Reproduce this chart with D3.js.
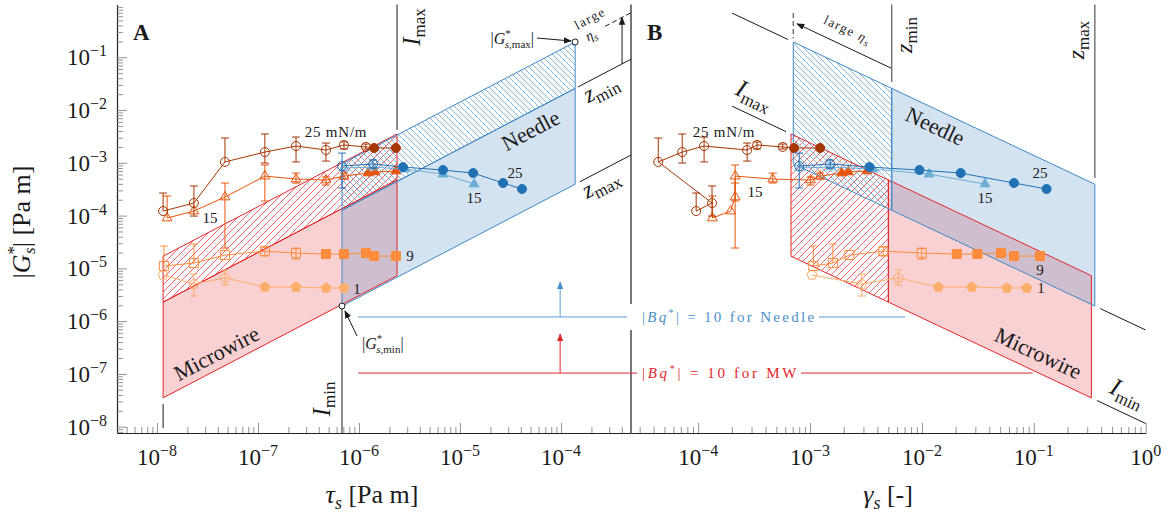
<!DOCTYPE html>
<html>
<head>
<meta charset="utf-8">
<script src="https://cdn.jsdelivr.net/npm/d3@7/dist/d3.min.js"></script>
<style>
  body { margin: 0; background: #fff; }
  svg { display: block; }
  text { font-family: "Liberation Serif", "Times New Roman", serif; }
  .axis .domain { stroke: #222; stroke-width: 1.2; }
  .axis .tick line { stroke: #777; stroke-width: 0.8; }
</style>
</head>
<body>
<svg width="1175" height="515"></svg>
<script>
const svg = d3.select("svg");

// ---- axes
const tauDomain = [4.02e-9, 4.93e-4];
const gamDomain = [2.51e-5, 1];
const gDomain = [7.6e-9, 1];
const tauMajor = [1e-8, 1e-7, 1e-6, 1e-5, 1e-4];
const tauTickText = ["−8", "−7", "−6", "−5", "−4"];
const gamMajor = [1e-4, 1e-3, 1e-2, 1e-1, 1];
const gamTickText = ["−4", "−3", "−2", "−1", "0"];
const gMajor = [1e-8, 1e-7, 1e-6, 1e-5, 1e-4, 1e-3, 1e-2, 1e-1];
const gTickText = ["−8", "−7", "−6", "−5", "−4", "−3", "−2", "−1"];

// ---- operating windows (edges)
const mwTau = [1.15e-8, 2.38e-6];          // I_min, I_max microwire
const mwGam = [6.76e-4, 5.01e-3, 0.327];   // large eta_s / z_min / z_max
const ndTau = [6.79e-7, 1.38e-4];          // needle
const ndGam = [7.08e-4, 5.37e-3, 0.351];

// |Bq*| = 10 levels: needle, MW
const bqG = [1.2e-6, 1.04e-7];
const bqGamEnd = [7.06e-3, 0.098];
const bqArrowTop = [5.5e-6, 5.7e-7];
const bqTauStart = 9.8e-7, bqArrowTau = 9.8e-5;

// annotation line extents
const extLeftTau = [1.47e-4, 1.54e-4, 2.73e-4];  // z_min, z_max, dashed
const etaArrowTauL = 4.02e-4;
const imaxLineG = [1, 4.2e-3];
const mwTickG = [2.7e-8, 9.4e-9];
const imaxExtGam = [2.01e-4, 6.35e-4, 6.1e-4];
const etaDashG = [0.69, 0.23];
const etaArrowR = [3.3e-4, 5.37e-3, 7.65e-4];
const zVertEndG = [3.4e-2, 5.15e-4];
const iminExtGam = [0.392, 0.367];

// ---- data series
// 25 mN/m microwire
const mw25Tau = [1.15e-8, 2.32e-8, 4.71e-8, 1.17e-7, 2.38e-7, 4.71e-7, 7.1e-7, 1.17e-6, 1.41e-6, 2.32e-6];
const mw25Gam = [9.6e-5, 1.33e-4, 4.4e-5, 7.2e-5, 1.13e-4, 2.74e-4, 3.36e-4, 5.7e-4, 7.2e-4, 1.23e-3];
const mw25G   = [1.22e-4, 1.73e-4, 1.04e-3, 1.60e-3, 2.08e-3, 1.75e-3, 2.18e-3, 2.0e-3, 1.91e-3, 1.91e-3];
const mw25Hi  = [2.68e-4, 3.64e-4, 2.95e-3, 3.52e-3, 3.08e-3, 2.37e-3, 2.48e-3, 2.27e-3, null, null];
const mw25Lo  = [null, 9.8e-5, null, 9.9e-4, 1.04e-3, 1.08e-3, 1.83e-3, 1.83e-3, null, null];
// 15 mN/m microwire
const mw15Tau = [1.26e-8, 2.32e-8, 4.71e-8, 1.17e-7, 2.38e-7, 4.71e-7, 7.1e-7, 1.23e-6, 1.44e-6, 2.32e-6];
const mw15Gam = [1.34e-4, 1.95e-4, 2.14e-4, 2.14e-4, 4.64e-4, 1.01e-3, 1.23e-3, 1.92e-3, 2.2e-3, 3.23e-3];
const mw15G   = [9.0e-5, 1.22e-4, 2.25e-4, 5.6e-4, 4.93e-4, 4.72e-4, 5.6e-4, 6.4e-4, 6.7e-4, 7.0e-4];
const mw15Hi  = [2.35e-4, null, 4.14e-4, 9.1e-4, 6.4e-4, 5.4e-4, 6.4e-4, null, null, null];
const mw15Lo  = [null, null, 2.43e-5, 1.89e-4, 4.14e-4, 3.8e-4, 4.93e-4, null, null, null];
// 9 mN/m microwire
const mw9Tau = [1.17e-8, 2.32e-8, 4.71e-8, 1.17e-7, 2.38e-7, 4.71e-7, 7.1e-7, 1.17e-6, 1.41e-6, 2.32e-6];
const mw9Gam = [1.07e-3, 1.6e-3, 2.25e-3, 4.52e-3, 9.95e-3, 2.05e-2, 3.13e-2, 5.09e-2, 6.65e-2, 0.1135];
const mw9G   = [1.11e-5, 1.26e-5, 1.79e-5, 2.13e-5, 1.95e-5, 1.87e-5, 1.87e-5, 1.95e-5, 1.71e-5, 1.71e-5];
const mw9Hi  = [2.65e-5, 2.89e-5, null, 2.54e-5, 2.43e-5, null, null, null, null, null];
const mw9Lo  = [null, null, null, 1.71e-5, 1.5e-5, null, null, null, null, null];
// 1 mN/m microwire
const mw1Tau = [1.15e-8, 2.32e-8, 4.71e-8, 1.17e-7, 2.38e-7, 4.71e-7, 7.1e-7];
const mw1Gam = [1.04e-3, 2.9e-3, 6.15e-3, 1.4e-2, 2.79e-2, 5.73e-2, 8.64e-2];
const mw1G   = [7.5e-6, 5.05e-6, 6.6e-6, 4.43e-6, 4.43e-6, 4.25e-6, 4.25e-6];
const mw1Hi  = [null, 7.8e-6, 9.3e-6, null, null, null, null];
const mw1Lo  = [null, 2.99e-6, 4.83e-6, null, null, null, null];
// 25 mN/m needle
const nd25Tau = [6.8e-7, 1.38e-6, 2.73e-6, 6.79e-6, 1.35e-5, 2.67e-5, 4.11e-5];
const nd25Gam = [8.0e-4, 1.51e-3, 3.39e-3, 9.5e-3, 2.22e-2, 6.65e-2, 0.130];
const nd25G   = [8.7e-4, 9.5e-4, 8.3e-4, 7.3e-4, 6.4e-4, 4.14e-4, 3.19e-4];
const nd25Hi  = [1.53e-3, 1.13e-3, null, null, null, null, null];
const nd25Lo  = [3.33e-4, 7.97e-4, null, null, null, null, null];
// 15 mN/m needle
const nd15Tau = [7.1e-7, 1.35e-6, 2.85e-6, 6.79e-6, 1.38e-5];
const nd15Gam = [8.1e-4, 1.54e-3, 3.66e-3, 1.16e-2, 3.66e-2];
const nd15G   = [8.0e-4, 8.3e-4, 7.6e-4, 6.1e-4, 3.96e-4];

const series = [
  {tau: mw1Tau, gam: mw1Gam, G: mw1G, hi: mw1Hi, lo: mw1Lo, nOpen: 3, color: "#fdae6b", shape: "pentagon"},
  {tau: mw9Tau, gam: mw9Gam, G: mw9G, hi: mw9Hi, lo: mw9Lo, nOpen: 5, color: "#fd8d3c", shape: "square"},
  {tau: mw15Tau, gam: mw15Gam, G: mw15G, hi: mw15Hi, lo: mw15Lo, nOpen: 7, color: "#e6550d", shape: "triangle"},
  {tau: mw25Tau, gam: mw25Gam, G: mw25G, hi: mw25Hi, lo: mw25Lo, nOpen: 8, color: "#a63603", shape: "circle"},
  {tau: nd15Tau, gam: nd15Gam, G: nd15G, hi: null, lo: null, nOpen: 2, color: "#6baed6", shape: "triangle"},
  {tau: nd25Tau, gam: nd25Gam, G: nd25G, hi: nd25Hi, lo: nd25Lo, nOpen: 2, color: "#2171b5", shape: "circle"}
];

const red = "#e3262a", blue = "#3f88c5", ink = "#1a1a1a";

const xL = d3.scaleLog().domain(tauDomain).range([117, 631]);
const xR = d3.scaleLog().domain(gamDomain).range([631, 1145.7]);
const y = d3.scaleLog().domain(gDomain).range([433, 4.5]);
const yB = y.range()[0], yT = y.range()[1];

// ---------------------------------------------------------------
// helpers

function rich(sel, x, yy, parts, o = {}) {
  const t = sel.append("text")
    .attr("x", x).attr("y", yy)
    .attr("font-size", o.size || 14)
    .attr("text-anchor", o.anchor || "start")
    .style("fill", o.color || ink);
  if (o.rot) t.attr("transform", `rotate(${o.rot},${x},${yy})`);
  if (o.weight) t.attr("font-weight", o.weight);
  if (o.ls) t.attr("letter-spacing", o.ls);
  for (const [s, it, sz, dy, dx] of parts) {
    const ts = t.append("tspan").text(s);
    if (it) ts.attr("font-style", "italic");
    if (sz) ts.attr("font-size", sz);
    if (dy) ts.attr("dy", dy);
    if (dx) ts.attr("dx", dx);
  }
  return t;
}

function seg(g, pts, color, opts = {}) {
  const p = g.append("path")
    .attr("d", d3.line()(pts))
    .attr("fill", "none")
    .attr("stroke", color)
    .attr("stroke-width", opts.w || 1);
  if (opts.dash) p.attr("stroke-dasharray", opts.dash);
  if (opts.arrow) p.attr("marker-end", `url(#${opts.arrow})`);
  return p;
}

function shapePath(shape) {
  if (shape === "circle") return d3.symbol(d3.symbolCircle, 64)();
  if (shape === "square") return "M-4.5,-4.5h9v9h-9Z";
  if (shape === "triangle") return "M0,-5.6L4.9,2.8L-4.9,2.8Z";
  const pts = d3.range(5).map(i => {
    const a = -Math.PI / 2 + i * 2 * Math.PI / 5;
    return [5.2 * Math.cos(a), 5.2 * Math.sin(a)];
  });
  return "M" + pts.join("L") + "Z";
}

function isMajor(v) {
  const l = Math.log10(v);
  return Math.abs(l - Math.round(l)) < 1e-9;
}

// ---------------------------------------------------------------
// defs: hatches + arrow heads

const defs = svg.append("defs");
function hatch(id, color, dir, s, w) {
  const p = defs.append("pattern").attr("id", id)
    .attr("patternUnits", "userSpaceOnUse")
    .attr("width", s).attr("height", s);
  const d = dir > 0
    ? `M-1,1L1,-1M0,${s}L${s},0M${s - 1},${s + 1}L${s + 1},${s - 1}`
    : `M-1,${s - 1}L1,${s + 1}M0,0L${s},${s}M${s - 1},-1L${s + 1},1`;
  p.append("path").attr("d", d)
    .style("fill", "none").style("stroke", color).style("stroke-width", w);
}
hatch("hatchMw", "#f5585b", 1, 7, 0.9);
hatch("hatchNd", "#5d9ed4", -1, 6, 0.75);

[["arrInk", ink], ["arrRed", red], ["arrBlue", "#4a90c8"]].forEach(([id, c]) => {
  defs.append("marker").attr("id", id)
    .attr("viewBox", "0 0 10 8").attr("refX", 9).attr("refY", 4)
    .attr("markerUnits", "userSpaceOnUse")
    .attr("markerWidth", 8).attr("markerHeight", 7)
    .attr("orient", "auto")
    .append("path").attr("d", "M0,0L10,4L0,8Z").attr("fill", c);
});

// ---------------------------------------------------------------
// operating windows in both panels

function quad(taus, g1, g2) {
  return [[taus[0], g1], [taus[1], g1], [taus[1], g2], [taus[0], g2]]
    .map(([tau, gam]) => ({tau, gam, G: tau / gam}));
}
const mwSolid = quad(mwTau, mwGam[1], mwGam[2]);
const mwHatch = quad(mwTau, mwGam[0], mwGam[1]);
const ndSolid = quad(ndTau, ndGam[1], ndGam[2]);
const ndHatch = quad(ndTau, ndGam[0], ndGam[1]);

const panels = [{xs: xL, key: "tau"}, {xs: xR, key: "gam"}];

panels.forEach(({xs, key}) => {
  const line = d3.line().x(d => xs(d[key])).y(d => y(d.G));
  const g = svg.append("g");
  g.append("path").attr("d", line(mwSolid) + "Z").attr("fill", red).attr("fill-opacity", 0.21);
  g.append("path").attr("d", line(ndSolid) + "Z").attr("fill", "#3a7fc0").attr("fill-opacity", 0.22);
  g.append("path").attr("d", line(mwHatch) + "Z").style("fill", "url(#hatchMw)");
  g.append("path").attr("d", line(ndHatch) + "Z").style("fill", "url(#hatchNd)");
  [mwHatch, mwSolid].forEach(q => g.append("path").attr("d", line(q) + "Z")
    .attr("fill", "none").attr("stroke", red).attr("stroke-width", 1));
  [ndHatch, ndSolid].forEach(q => g.append("path").attr("d", line(q) + "Z")
    .attr("fill", "none").attr("stroke", blue).attr("stroke-width", 1));
});

// ---------------------------------------------------------------
// annotation lines

const ann = svg.append("g");
const xMidLine = xL.range()[1];
// left panel
seg(ann, [[xL(mwTau[1]), y(imaxLineG[0])], [xL(mwTau[1]), y(imaxLineG[1])]], ink);
seg(ann, [[xL(ndTau[0]), y(ndTau[0] / ndGam[2])], [xL(ndTau[0]), yB]], ink);
seg(ann, [[xL(mwTau[0]), y(mwTickG[0])], [xL(mwTau[0]), y(mwTickG[1])]], ink);
seg(ann, [extLeftTau[0], tauDomain[1]].map(t => [xL(t), y(t / ndGam[1])]), ink);
seg(ann, [extLeftTau[1], tauDomain[1]].map(t => [xL(t), y(t / ndGam[2])]), ink);
seg(ann, [extLeftTau[2], tauDomain[1]].map(t => [xL(t), y(t / ndGam[0])]), ink, {dash: "5,3"});
seg(ann, [[xL(etaArrowTauL), y(etaArrowTauL / ndGam[1])],
          [xL(etaArrowTauL), y(etaArrowTauL / ndGam[0])]], ink, {arrow: "arrInk"});
seg(ann, [[xMidLine, yT], [xMidLine, yB]], ink, {w: 1.2});

// right panel
seg(ann, [imaxExtGam[0], imaxExtGam[1]].map(gm => [xR(gm), y(ndTau[1] / gm)]), ink);
seg(ann, [imaxExtGam[0], imaxExtGam[2]].map(gm => [xR(gm), y(mwTau[1] / gm)]), ink);
seg(ann, [[xR(ndGam[0]), y(etaDashG[0])], [xR(ndGam[0]), y(etaDashG[1])]], "#555", {dash: "5,3", w: 1.2});
seg(ann, [etaArrowR[1], etaArrowR[2]].map(gm => [xR(gm), y(etaArrowR[0] / gm)]), ink, {arrow: "arrInk"});
seg(ann, [[xR(ndGam[1]), yT], [xR(ndGam[1]), y(zVertEndG[0])]], "#666", {w: 1.3});
seg(ann, [[xR(ndGam[2]), yT], [xR(ndGam[2]), y(zVertEndG[1])]], "#777", {w: 1.5});
seg(ann, [iminExtGam[0], 1].map(gm => [xR(gm), y(ndTau[0] / gm)]), ink);
seg(ann, [iminExtGam[1], 1].map(gm => [xR(gm), y(mwTau[0] / gm)]), ink);

// |G*| extremes
[[ndTau[0], ndGam[2]], [ndTau[1], ndGam[0]]].forEach(([t, gm]) => {
  ann.append("circle").attr("cx", xL(t)).attr("cy", y(t / gm)).attr("r", 3)
    .attr("fill", "#fff").attr("stroke", ink).attr("stroke-width", 1);
});
seg(ann, [[537, 38], [571, 41]], ink, {arrow: "arrInk"});
seg(ann, [[357, 336], [345, 311]], ink, {arrow: "arrInk"});

// ---------------------------------------------------------------
// |Bq*| = 10 lines

const bq = svg.append("g");
const bqCol = ["#5b9bd0", red];
const bqArr = ["arrBlue", "arrRed"];
bqG.forEach((gv, i) => {
  seg(bq, [[xL(bqTauStart), y(gv)], [xR(bqGamEnd[i]), y(gv)]], bqCol[i]);
  seg(bq, [[xL(bqArrowTau), y(gv)], [xL(bqArrowTau), y(bqArrowTop[i])]], bqCol[i], {arrow: bqArr[i]});
});
bq.append("rect").attr("x", 627).attr("y", y(bqG[0]) - 13).attr("width", 192).attr("height", 26).attr("fill", "#fff");
bq.append("rect").attr("x", 637).attr("y", y(bqG[1]) - 12).attr("width", 164).attr("height", 24).attr("fill", "#fff");
rich(bq, 642, y(bqG[0]) + 5, [["|"], ["Bq", true], ["*", false, 10, -6], ["| = 10 for Needle", false, null, 6]],
  {size: 15, color: "#4a8fc8", ls: 2.3});
rich(bq, 642, y(bqG[1]) + 5, [["|"], ["Bq", true], ["*", false, 10, -6], ["| = 10 for MW", false, null, 6]],
  {size: 15, color: red, ls: 2.7});

// ---------------------------------------------------------------
// data

panels.forEach(({xs, key}) => {
  const g = svg.append("g");
  series.forEach(s => {
    const pts = s.tau.map((t, i) => ({
      tau: t, gam: s.gam[i], G: s.G[i],
      hi: s.hi ? s.hi[i] : null, lo: s.lo ? s.lo[i] : null,
      open: i < s.nOpen
    }));
    const px = d => xs(d[key]);
    pts.filter(d => d.hi || d.lo).forEach(d => {
      const x0 = px(d);
      const y1 = y(d.hi || d.G), y2 = y(d.lo || d.G);
      seg(g, [[x0, y1], [x0, y2]], s.color);
      if (d.hi) seg(g, [[x0 - 4, y1], [x0 + 4, y1]], s.color);
      if (d.lo) seg(g, [[x0 - 4, y2], [x0 + 4, y2]], s.color);
    });
    g.append("path")
      .attr("d", d3.line().x(px).y(d => y(d.G))(pts))
      .attr("fill", "none").attr("stroke", s.color).attr("stroke-width", 1);
    g.selectAll(null).data(pts).enter().append("path")
      .attr("d", shapePath(s.shape))
      .attr("transform", d => `translate(${px(d)},${y(d.G)})`)
      .attr("fill", d => d.open ? "none" : s.color)
      .attr("stroke", s.color).attr("stroke-width", 1);
  });
});

// ---------------------------------------------------------------
// axes

function bottomAxis(xs, majors, labels) {
  const minor = xs.ticks().filter(v => !isMajor(v));
  svg.append("g").attr("class", "axis").attr("transform", `translate(0,${yB})`)
    .call(d3.axisBottom(xs).tickValues(minor).tickSize(-6).tickSizeOuter(0).tickFormat(""));
  const gM = svg.append("g").attr("class", "axis").attr("transform", `translate(0,${yB})`)
    .call(d3.axisBottom(xs).tickValues(majors).tickSize(-10).tickSizeOuter(0).tickFormat(""));
  gM.select(".domain").remove();
  majors.forEach((v, i) => rich(svg, xs(v), 465, [["10"], [labels[i], false, 16, -9]],
    {size: 23, anchor: "middle"}));
}
bottomAxis(xL, tauMajor, tauTickText);
bottomAxis(xR, gamMajor, gamTickText);

const yMinor = y.ticks().filter(v => !isMajor(v));
svg.append("g").attr("class", "axis").attr("transform", `translate(${xL.range()[0]},0)`)
  .call(d3.axisLeft(y).tickValues(yMinor).tickSize(-6).tickSizeOuter(0).tickFormat(""));
const gYM = svg.append("g").attr("class", "axis").attr("transform", `translate(${xL.range()[0]},0)`)
  .call(d3.axisLeft(y).tickValues(gMajor).tickSize(-10).tickSizeOuter(0).tickFormat(""));
gYM.select(".domain").remove();
gMajor.forEach((v, i) => rich(svg, 107, y(v) + 8, [["10"], [gTickText[i], false, 16, -9]],
  {size: 23, anchor: "end"}));

// axis titles
rich(svg, 372, 503, [["τ", true], ["s", true, 18, 6], [" [Pa m]", false, null, -6]], {size: 26, anchor: "middle"});
rich(svg, 888, 503, [["γ", true], ["s", true, 18, 6], [" [-]", false, null, -6]], {size: 26, anchor: "middle"});
rich(svg, 30, 222, [["|"], ["G", true], ["*", false, 17, -11], ["s", true, 17, 16, -8], ["| [Pa m]", false, null, -5]],
  {size: 26, anchor: "middle", rot: -90});

// ---------------------------------------------------------------
// labels

rich(svg, 133, 40, [["A"]], {size: 23, weight: "bold"});
rich(svg, 647, 40, [["B"]], {size: 23, weight: "bold"});

rich(svg, 534, 44, [["|"], ["G", true], ["*", false, 11, -7], ["s", true, 11, 11, -6], [",max", false, 11],
  ["|", false, null, -4]], {size: 16, anchor: "end"});
rich(svg, 362, 349, [["|"], ["G", true], ["*", false, 11, -7], ["s", true, 11, 11, -6], [",min", false, 11],
  ["|", false, null, -4]], {size: 16});

// I / z labels
rich(svg, 420, 27, [["I", true], ["max", false, 17, 5]], {size: 25, anchor: "middle", rot: -90});
rich(svg, 330, 399, [["I", true], ["min", false, 17, 5]], {size: 25, anchor: "middle", rot: -90});
rich(svg, 604, 95, [["z", true], ["min", false, 17, 5]], {size: 24, anchor: "middle", rot: -27.6});
rich(svg, 604, 190, [["z", true], ["max", false, 17, 5]], {size: 24, anchor: "middle", rot: -27.6});
rich(svg, 592, 22, [["large"]], {size: 13, anchor: "middle", rot: -27.6, ls: 1.5});
rich(svg, 593, 39, [["η", true], ["s", true, 10, 3]], {size: 14, anchor: "middle", rot: -27.6});

rich(svg, 751, 102, [["I", true], ["max", false, 17, 5]], {size: 25, anchor: "middle", rot: 25.2});
rich(svg, 1124, 400, [["I", true], ["min", false, 17, 5]], {size: 25, anchor: "middle", rot: 25.2});
rich(svg, 912, 35, [["z", true], ["min", false, 17, 5]], {size: 24, anchor: "middle", rot: -90});
rich(svg, 1084, 40, [["z", true], ["max", false, 17, 5]], {size: 24, anchor: "middle", rot: -90});
rich(svg, 846, 34, [["large "], ["η", true], ["s", true, 10, 3]], {size: 13, anchor: "middle", rot: 25.2, ls: 1.5});

// region names
rich(svg, 534, 137, [["Needle"]], {size: 22, anchor: "middle", rot: -27.6});
rich(svg, 220, 360, [["Microwire"]], {size: 22, anchor: "middle", rot: -27.6});
rich(svg, 932, 133, [["Needle"]], {size: 22, anchor: "middle", rot: 25.2});
rich(svg, 1035, 360, [["Microwire"]], {size: 22, anchor: "middle", rot: 25.2});

// series tags
const tagL = [["25 mN/m", 336, 137], ["15", 210, 223], ["25", 515, 178], ["15", 474, 203], ["9", 410, 261], ["1", 357, 294]];
const tagR = [["25 mN/m", 724, 137], ["15", 755, 197], ["25", 1040, 178], ["15", 985, 203], ["9", 1040, 275], ["1", 1041, 293]];
[...tagL, ...tagR].forEach(([t, x, yy]) => rich(svg, x, yy, [[t]], {size: 15, anchor: "middle", ls: t.length > 3 ? 0.8 : 0}));
</script>
</body>
</html>
